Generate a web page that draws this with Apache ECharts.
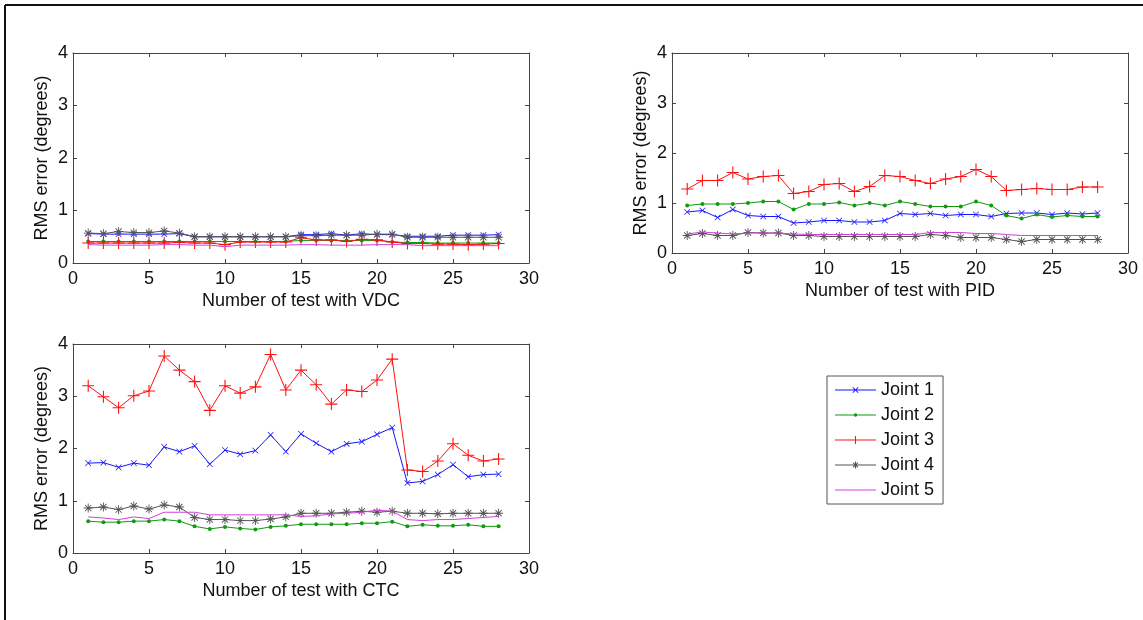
<!DOCTYPE html>
<html>
<head>
<meta charset="utf-8">
<script src="https://cdn.jsdelivr.net/npm/echarts@6/dist/echarts.min.js"></script>
<style>
  html, body { margin: 0; padding: 0; background: #fff; }
  #chart { width: 1143px; height: 620px; }
</style>
</head>
<body>
<div id="chart"></div>
<script>
// test numbers (x axis)
var tests = [1, 2, 3, 4, 5, 6, 7, 8, 9, 10, 11, 12, 13, 14, 15, 16, 17, 18, 19, 20, 21, 22, 23, 24, 25, 26, 27, 28];
var jointNames = ['Joint 1', 'Joint 2', 'Joint 3', 'Joint 4', 'Joint 5'];
var xTitles = ['Number of test with VDC', 'Number of test with PID', 'Number of test with CTC'];
var yTitle = 'RMS error (degrees)';

// VDC
var vdcJ1 = [0.56, 0.55, 0.55, 0.55, 0.55, 0.55, 0.56, 0.5, 0.5, 0.5, 0.5, 0.5, 0.5, 0.5, 0.54, 0.54, 0.56, 0.53, 0.56, 0.54, 0.54, 0.51, 0.51, 0.51, 0.53, 0.53, 0.53, 0.54];
var vdcJ2 = [0.41, 0.41, 0.41, 0.41, 0.41, 0.41, 0.41, 0.41, 0.41, 0.41, 0.41, 0.41, 0.41, 0.41, 0.43, 0.43, 0.43, 0.43, 0.43, 0.43, 0.4, 0.39, 0.39, 0.38, 0.38, 0.38, 0.38, 0.38];
var vdcJ3 = [0.38, 0.38, 0.38, 0.38, 0.38, 0.38, 0.39, 0.38, 0.38, 0.35, 0.4, 0.4, 0.4, 0.4, 0.48, 0.44, 0.44, 0.41, 0.45, 0.44, 0.4, 0.37, 0.37, 0.36, 0.36, 0.35, 0.36, 0.37];
var vdcJ4 = [0.57, 0.56, 0.6, 0.58, 0.58, 0.61, 0.57, 0.5, 0.5, 0.5, 0.5, 0.5, 0.5, 0.5, 0.52, 0.52, 0.53, 0.53, 0.53, 0.55, 0.55, 0.49, 0.49, 0.49, 0.49, 0.49, 0.49, 0.49];
var vdcJ5 = [0.35, 0.34, 0.34, 0.34, 0.34, 0.35, 0.35, 0.34, 0.34, 0.31, 0.34, 0.34, 0.34, 0.34, 0.35, 0.35, 0.34, 0.34, 0.34, 0.35, 0.35, 0.35, 0.33, 0.33, 0.33, 0.33, 0.33, 0.33];

// PID
var pidJ1 = [0.82, 0.85, 0.71, 0.87, 0.75, 0.73, 0.73, 0.6, 0.62, 0.65, 0.65, 0.62, 0.62, 0.65, 0.79, 0.77, 0.79, 0.75, 0.77, 0.77, 0.73, 0.79, 0.8, 0.8, 0.77, 0.8, 0.78, 0.8];
var pidJ2 = [0.95, 0.98, 0.98, 0.98, 1.0, 1.03, 1.03, 0.87, 0.98, 0.98, 1.01, 0.95, 1.0, 0.95, 1.03, 0.98, 0.93, 0.93, 0.93, 1.03, 0.95, 0.75, 0.69, 0.77, 0.72, 0.75, 0.73, 0.73];
var pidJ3 = [1.28, 1.45, 1.45, 1.61, 1.48, 1.53, 1.55, 1.19, 1.23, 1.37, 1.39, 1.23, 1.33, 1.55, 1.53, 1.45, 1.39, 1.48, 1.53, 1.67, 1.53, 1.25, 1.27, 1.29, 1.27, 1.27, 1.32, 1.32];
var pidJ4 = [0.35, 0.39, 0.35, 0.35, 0.41, 0.4, 0.4, 0.35, 0.35, 0.33, 0.33, 0.33, 0.33, 0.33, 0.33, 0.33, 0.37, 0.35, 0.31, 0.31, 0.31, 0.27, 0.23, 0.27, 0.27, 0.27, 0.27, 0.27];
var pidJ5 = [0.38, 0.42, 0.4, 0.38, 0.4, 0.4, 0.4, 0.38, 0.37, 0.37, 0.37, 0.37, 0.37, 0.37, 0.37, 0.37, 0.41, 0.41, 0.41, 0.39, 0.39, 0.37, 0.35, 0.35, 0.35, 0.35, 0.35, 0.35];

// CTC
var ctcJ1 = [1.72, 1.73, 1.64, 1.72, 1.68, 2.03, 1.94, 2.05, 1.7, 1.97, 1.89, 1.96, 2.26, 1.94, 2.28, 2.1, 1.94, 2.09, 2.13, 2.27, 2.4, 1.34, 1.37, 1.5, 1.69, 1.46, 1.5, 1.51];
var ctcJ2 = [0.61, 0.59, 0.59, 0.61, 0.61, 0.64, 0.61, 0.51, 0.46, 0.5, 0.47, 0.45, 0.5, 0.52, 0.55, 0.55, 0.55, 0.55, 0.57, 0.57, 0.6, 0.51, 0.54, 0.52, 0.52, 0.54, 0.51, 0.51];
var ctcJ3 = [3.2, 2.99, 2.78, 3.01, 3.1, 3.77, 3.5, 3.28, 2.73, 3.2, 3.06, 3.18, 3.8, 3.12, 3.5, 3.22, 2.85, 3.12, 3.09, 3.31, 3.71, 1.59, 1.56, 1.76, 2.09, 1.87, 1.76, 1.8];
var ctcJ4 = [0.86, 0.88, 0.83, 0.9, 0.84, 0.92, 0.88, 0.68, 0.64, 0.64, 0.62, 0.62, 0.65, 0.69, 0.76, 0.76, 0.76, 0.78, 0.8, 0.78, 0.8, 0.76, 0.76, 0.75, 0.76, 0.76, 0.76, 0.76];
var ctcJ5 = [0.69, 0.67, 0.64, 0.69, 0.66, 0.78, 0.78, 0.78, 0.73, 0.73, 0.73, 0.73, 0.73, 0.73, 0.7, 0.71, 0.75, 0.76, 0.78, 0.82, 0.8, 0.64, 0.62, 0.64, 0.64, 0.66, 0.68, 0.7];

var panels = [
  [vdcJ1, vdcJ2, vdcJ3, vdcJ4, vdcJ5],
  [pidJ1, pidJ2, pidJ3, pidJ4, pidJ5],
  [ctcJ1, ctcJ2, ctcJ3, ctcJ4, ctcJ5]
];

var font = 'Liberation Sans, Arial, sans-serif';
var axisColor = '#444';
var textColor = '#111';

// marker shapes, MATLAB style
var plusPath = 'path://M4.55,0H5.45V10H4.55ZM0,4.55H10V5.45H0Z';
var starPath = 'path://M4.5,0H5.5V10H4.5ZM0,4.5H10V5.5H0ZM1.2,1.9L1.9,1.2L8.8,8.1L8.1,8.8ZM8.1,1.2L8.8,1.9L1.9,8.8L1.2,8.1Z';

// legend icons: line sample with the marker in the middle (41 x 14 box)
var lineBar = 'M0,6.5H41V7.5H0Z';
var legendIcons = [
  'path://' + lineBar + 'M17.4,4.6L18.1,3.9L23.6,9.4L22.9,10.1ZM22.9,3.9L23.6,4.6L18.1,10.1L17.4,9.4Z',
  'path://' + lineBar + 'M20.5,5.3A1.7,1.7 0 1 1 20.5,8.7A1.7,1.7 0 1 1 20.5,5.3Z',
  'path://' + lineBar + 'M20,3H21V11H20Z',
  'path://' + lineBar + 'M20,3.5H21V10.5H20ZM17.7,4.9L18.4,4.2L23.3,9.1L22.6,9.8ZM22.6,4.2L23.3,4.9L18.4,9.8L17.7,9.1Z',
  'path://' + lineBar
];

var styles = [
  { color: '#1515ff', symbol: plusPath, symbolSize: 8, symbolRotate: 45 },
  { color: '#119a11', symbol: 'circle', symbolSize: 4, symbolRotate: 0 },
  { color: '#ff1010', symbol: plusPath, symbolSize: 12, symbolRotate: 0 },
  { color: '#555555', symbol: starPath, symbolSize: 9, symbolRotate: 0 },
  { color: '#d040d8', symbol: 'none', symbolSize: 0, symbolRotate: 0 }
];

var grids = [
  { left: 73, top: 53, width: 456, height: 210 },
  { left: 672, top: 53, width: 456, height: 200 },
  { left: 73, top: 344, width: 456, height: 209 }
];

var xAxes = [];
var yAxes = [];
var series = [];

grids.forEach(function (g, i) {
  var tick = { inside: true, length: 4, lineStyle: { color: axisColor } };
  var line = { show: true, onZero: false, lineStyle: { color: axisColor, width: 1 } };
  xAxes.push({
    type: 'value', gridIndex: i, min: 0, max: 30, interval: 5,
    axisLine: line, axisTick: tick, splitLine: { show: false },
    axisLabel: { margin: 7, fontSize: 18, color: textColor, fontFamily: font },
    name: xTitles[i], nameLocation: 'middle', nameGap: 29,
    nameTextStyle: { fontSize: 18, color: textColor, fontFamily: font }
  });
  xAxes.push({
    type: 'value', gridIndex: i, min: 0, max: 30, interval: 5, position: 'top',
    axisLine: line, axisTick: tick, splitLine: { show: false },
    axisLabel: { show: false }
  });
  yAxes.push({
    type: 'value', gridIndex: i, min: 0, max: 4, interval: 1,
    axisLine: line, axisTick: tick, splitLine: { show: false },
    axisLabel: { margin: 5, fontSize: 18, color: textColor, fontFamily: font },
    name: yTitle, nameLocation: 'middle', nameGap: 22, nameRotate: 90,
    nameTextStyle: { fontSize: 18, color: textColor, fontFamily: font }
  });
  yAxes.push({
    type: 'value', gridIndex: i, min: 0, max: 4, interval: 1, position: 'right',
    axisLine: line, axisTick: tick, splitLine: { show: false },
    axisLabel: { show: false }
  });

  panels[i].forEach(function (vals, j) {
    var s = styles[j];
    series.push({
      name: jointNames[j],
      type: 'line',
      xAxisIndex: i * 2,
      yAxisIndex: i * 2,
      data: tests.map(function (t, k) { return [t, vals[k]]; }),
      symbol: s.symbol,
      symbolSize: s.symbolSize,
      symbolRotate: s.symbolRotate,
      showSymbol: s.symbol !== 'none',
      lineStyle: { color: s.color, width: 1 },
      itemStyle: { color: s.color },
      animation: false,
      z: 2 + j
    });
  });
});

var myChart = echarts.init(document.getElementById('chart'));
var option = {
  backgroundColor: '#fff',
  animation: false,
  grid: grids,
  xAxis: xAxes,
  yAxis: yAxes,
  series: series,
  legend: {
    data: jointNames.map(function (n, j) {
      return { name: n, icon: legendIcons[j], itemStyle: { color: styles[j].color } };
    }),
    orient: 'vertical',
    left: 827,
    top: 376,
    padding: [5, 9, 5, 8],
    itemWidth: 41,
    itemHeight: 14,
    itemGap: 7,
    borderColor: '#555',
    borderWidth: 1,
    selectedMode: false,
    textStyle: { fontSize: 18, color: textColor, fontFamily: font }
  },
  graphic: [
    { type: 'line', shape: { x1: 5, y1: 5, x2: 5, y2: 620 }, style: { stroke: '#111', lineWidth: 2 } },
    { type: 'line', shape: { x1: 5, y1: 5, x2: 1143, y2: 5 }, style: { stroke: '#111', lineWidth: 2 } }
  ]
};
myChart.setOption(option);
</script>
</body>
</html>
